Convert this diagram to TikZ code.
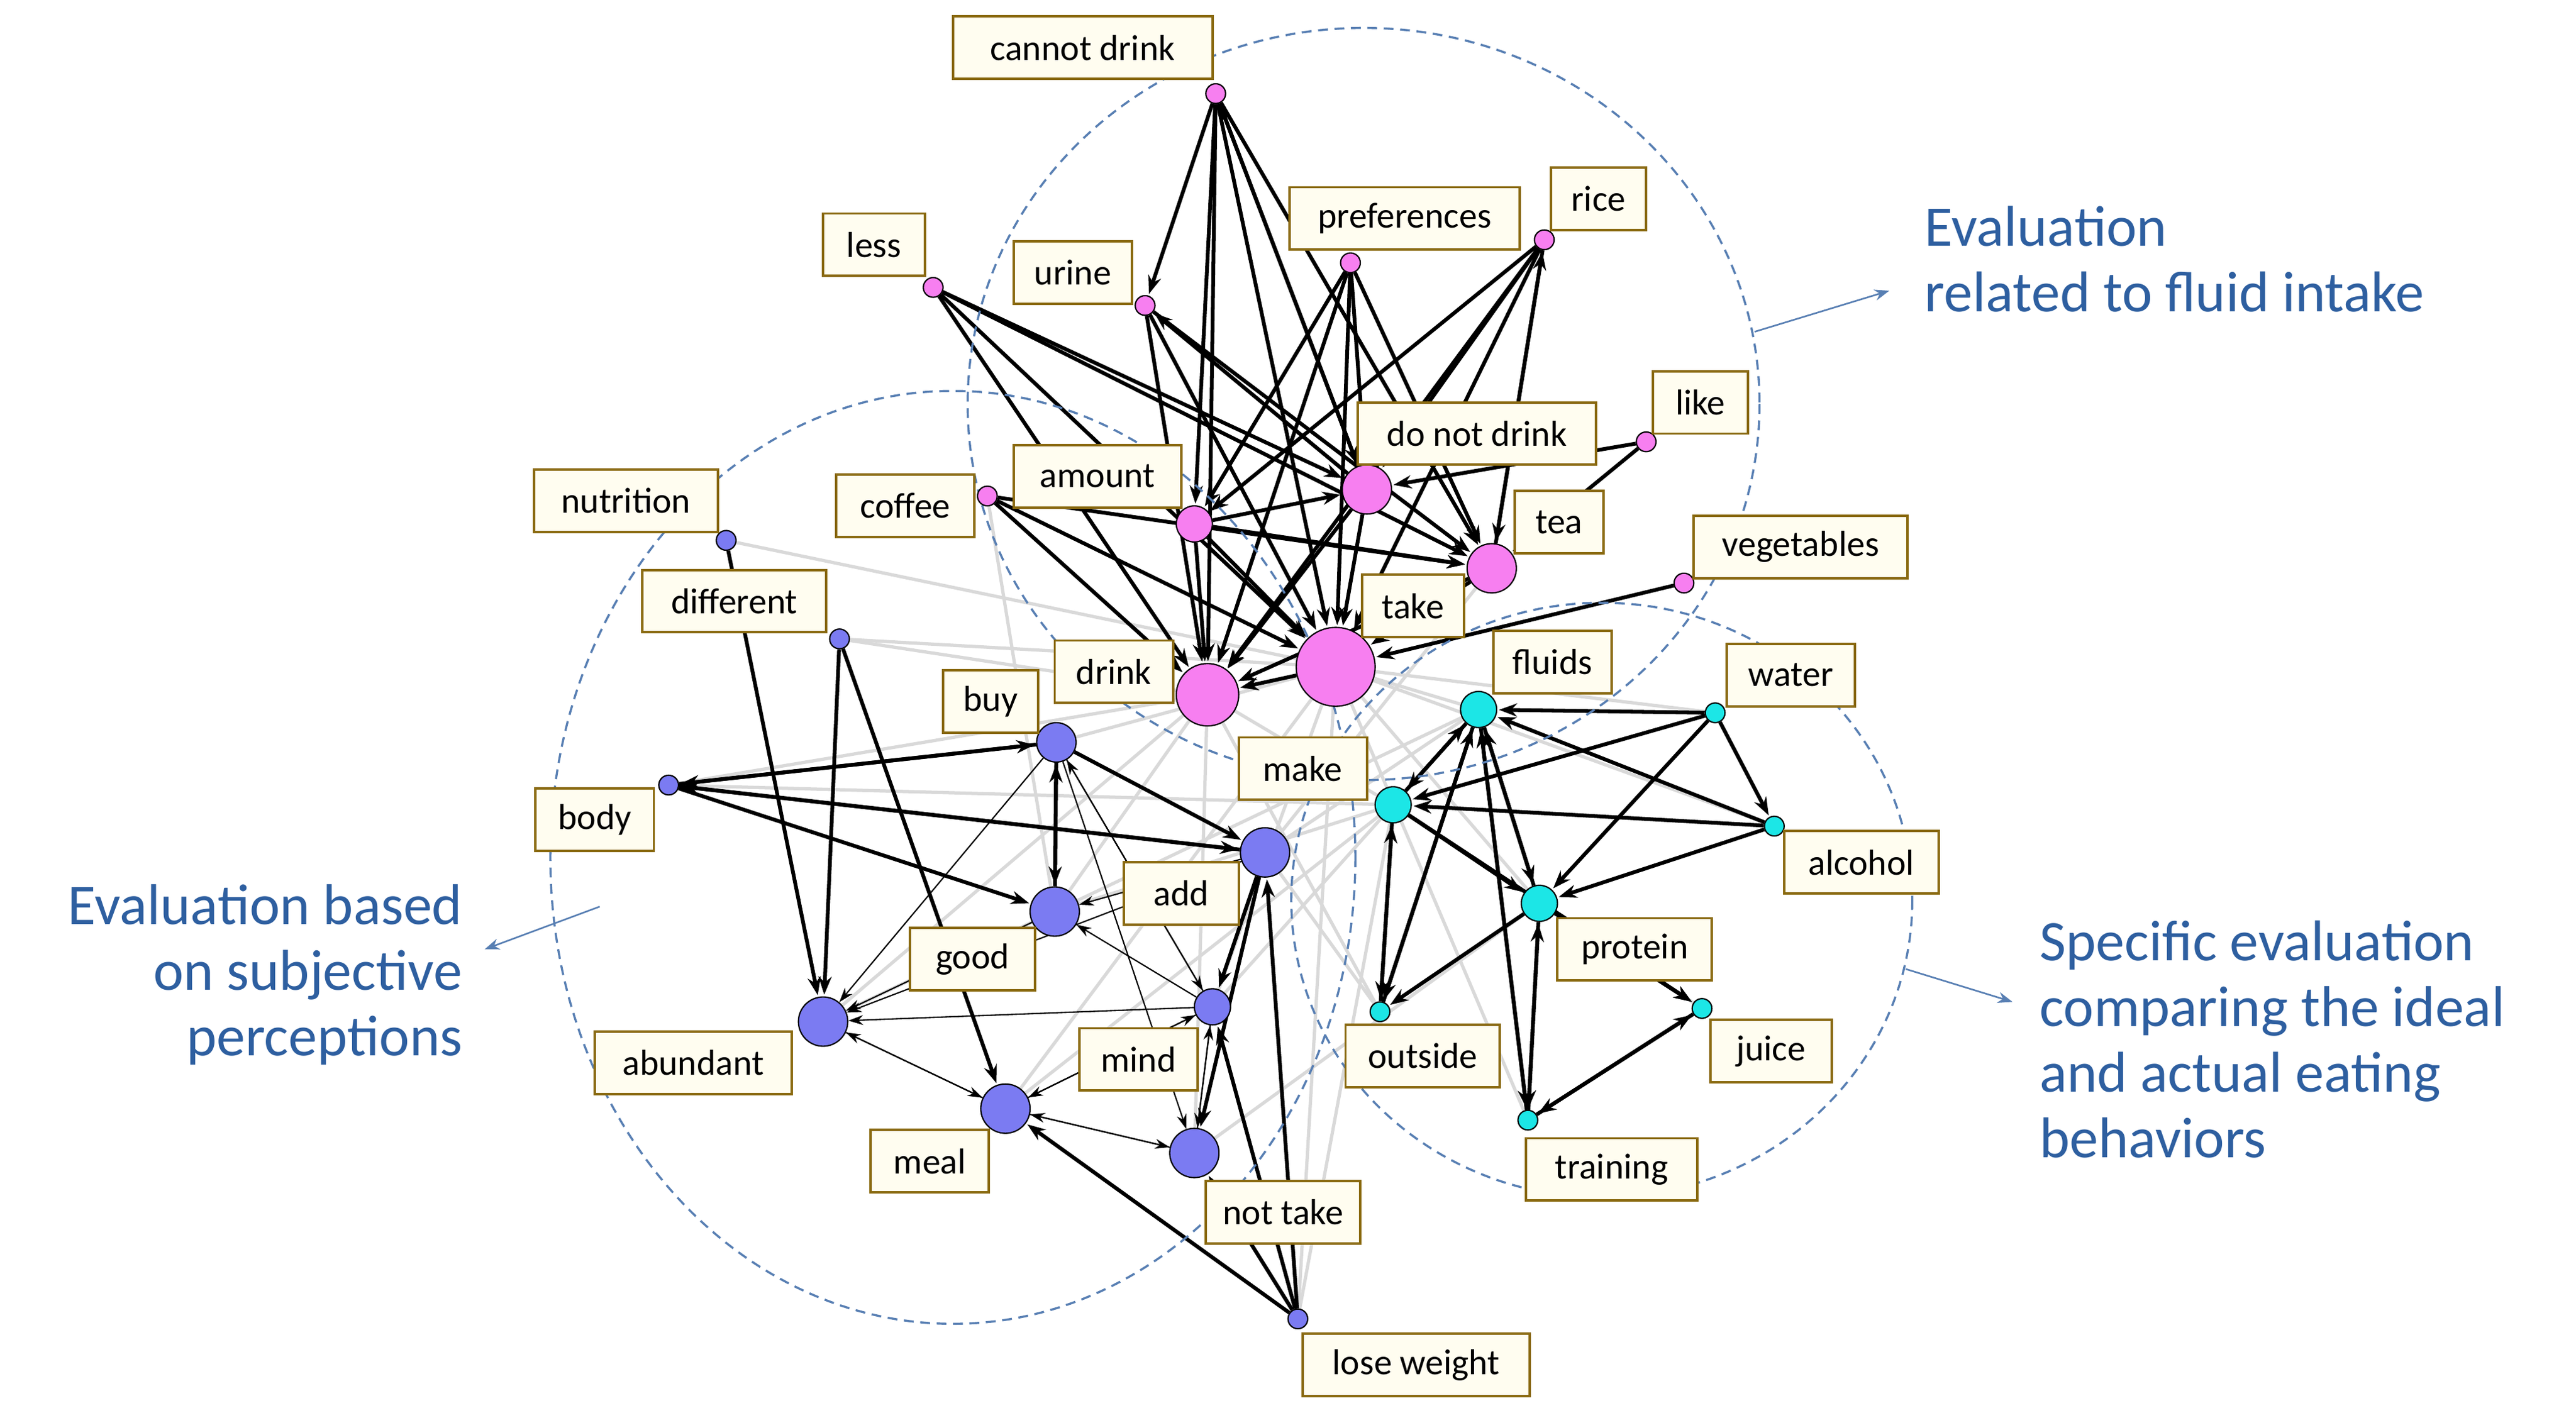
\documentclass[tikz,border=0pt]{standalone}
\usepackage{fontspec}
\setmainfont{Carlito}
\usetikzlibrary{arrows.meta}
\definecolor{pk}{HTML}{F77FF0}
\definecolor{cy}{HTML}{1CE6E6}
\definecolor{bl}{HTML}{7B7BF2}
\definecolor{ev}{HTML}{2E5FA0}
\definecolor{lb}{HTML}{FFFDF0}
\definecolor{lbd}{HTML}{8A6A10}
\pgfdeclarelayer{bg}
\pgfsetlayers{bg,main}
\begin{document}
\begin{tikzpicture}[x=1pt,y=-1pt,
 lab/.style={draw=lbd,line width=1.5pt,fill=lb,minimum height=38pt,inner xsep=4pt,font=\fontsize{22}{24}\selectfont},
 pn/.style={circle,draw=black,line width=0.8pt,fill=pk,inner sep=0pt},
 cn/.style={circle,draw=black,line width=0.8pt,fill=cy,inner sep=0pt},
 bn/.style={circle,draw=black,line width=0.8pt,fill=bl,inner sep=0pt},
 e/.style={-{Stealth[length=11pt,width=8pt]},line width=2.3pt,shorten >=1pt},
 t/.style={-{Stealth[length=9pt,width=6pt]},line width=0.8pt},
 g/.style={line width=2pt,black!15},
 ell/.style={dashed,draw=ev!80,line width=1.3pt,dash pattern=on 6pt off 4pt},
 ev/.style={text=ev,font=\fontsize{35}{40}\selectfont},
 ea/.style={-{Stealth[length=9pt]},draw=ev!80,line width=1pt}]
\useasboundingbox (0,0) rectangle (1568,860);
% nodes
\node[pn,minimum size=12pt] (cd) at (740,57) {};
\node[pn,minimum size=12pt] (ur) at (697,186) {};
\node[pn,minimum size=12pt] (le) at (568,175) {};
\node[pn,minimum size=12pt] (pr) at (822,160) {};
\node[pn,minimum size=12pt] (ri) at (940,146) {};
\node[pn,minimum size=12pt] (li) at (1002,269) {};
\node[pn,minimum size=12pt] (co) at (601,302) {};
\node[pn,minimum size=22pt] (am) at (727,319) {};
\node[pn,minimum size=30pt] (dn) at (832,298) {};
\node[pn,minimum size=30pt] (te) at (908,346) {};
\node[pn,minimum size=12pt] (ve) at (1025,355) {};
\node[pn,minimum size=48pt] (ta) at (813,406) {};
\node[pn,minimum size=38pt] (dr) at (735,423) {};
\node[cn,minimum size=22pt] (fl) at (900,432) {};
\node[cn,minimum size=12pt] (wa) at (1044,434) {};
\node[cn,minimum size=22pt] (mk) at (848,490) {};
\node[cn,minimum size=12pt] (al) at (1080,503) {};
\node[cn,minimum size=22pt] (pt) at (937,550) {};
\node[cn,minimum size=12pt] (ju) at (1036,614) {};
\node[cn,minimum size=12pt] (ou) at (840,616) {};
\node[cn,minimum size=12pt] (tr) at (930,682) {};
\node[bn,minimum size=12pt] (nu) at (442,329) {};
\node[bn,minimum size=12pt] (di) at (511,389) {};
\node[bn,minimum size=24pt] (bu) at (643,452) {};
\node[bn,minimum size=12pt] (bo) at (407,478) {};
\node[bn,minimum size=30pt] (ad) at (770,519) {};
\node[bn,minimum size=30pt] (go) at (642,555) {};
\node[bn,minimum size=30pt] (ab) at (501,622) {};
\node[bn,minimum size=22pt] (mi) at (738,613) {};
\node[bn,minimum size=30pt] (me) at (612,675) {};
\node[bn,minimum size=30pt] (nt) at (727,702) {};
\node[bn,minimum size=12pt] (lw) at (790,803) {};
\begin{pgfonlayer}{bg}
% gray edges
\foreach \a/\b in {nu/ta,di/dr,di/ta,bo/mk,bu/ta,go/mk,ab/fl,me/mk,mi/fl,nt/pt,lw/mk,ad/te,ad/fl,mi/ta,nt/dr,ab/dr,me/ta,go/dr,ou/dr,tr/ta,pt/ta,mk/dr,ju/mk,al/ta,wa/ta,fl/ta,co/go,bo/dr,lw/ta,ou/ad}
 \draw[g] (\a) -- (\b);
% pink edges
\foreach \a/\b in {cd/ur,cd/dr,cd/ta,cd/dn,cd/te,cd/am,le/dr,le/ta,le/te,le/dn,ur/dr,ur/ta,ur/te,pr/dr,pr/ta,pr/dn,pr/am,pr/te,ri/ta,ri/dr,ri/dn,ri/am,ri/te,li/dn,li/te,co/dr,co/ta,co/te,am/dr,am/ta,am/te,am/dn,dn/dr,dn/ta,te/dr,te/ta,ve/ta,ta/dr,dn/cd,te/ri,dn/ur}
 \draw[e] (\a) -- (\b);
% cyan edges
\foreach \a/\b in {wa/fl,wa/mk,wa/al,wa/pt,al/fl,al/mk,al/pt,fl/mk,fl/pt,fl/ou,fl/tr,mk/pt,mk/ou,mk/ju,pt/ou,pt/tr,pt/ju,ou/mk,tr/ju,ou/fl,tr/fl,ju/tr,tr/pt,mk/fl,pt/fl}
 \draw[e] (\a) -- (\b);
% blue edges
\foreach \a/\b in {nu/ab,di/ab,di/me,bo/bu,bo/ad,bo/go,bu/go,go/bu,bu/ad,ad/mi,ad/nt,lw/ad,lw/me,lw/mi,lw/nt,bu/bo,ad/bo}
 \draw[e] (\a) -- (\b);
\foreach \a/\b in {bu/mi,bu/nt,mi/ab,mi/me,me/nt,nt/me,ab/me,me/ab,go/ab,mi/go,mi/bu,ad/go,nt/mi,mi/nt,ad/ab,bu/ab,me/mi}
 \draw[t] (\a) -- (\b);
% ellipses
\draw[ell] (830,246) ellipse [x radius=241,y radius=229];
\draw[ell] (580,522) ellipse [x radius=245,y radius=284];
\draw[ell] (975,548) ellipse [x radius=189,y radius=181];
\end{pgfonlayer}
% labels
\foreach \p/\n/\w/\s in {{659,29}/l1/158/cannot drink,{532,149}/l2/62/less,{653,166}/l3/72/urine,{855,133}/l4/140/preferences,{973,121}/l5/58/rice,{1035,245}/l6/58/like,{899,264}/l7/145/do not drink,{668,290}/l8/102/amount,{551,308}/l9/84/coffee,{949,318}/l10/54/tea,{1096,333}/l11/130/vegetables,{860,369}/l12/62/take,{678,409}/l13/72/drink,{945,403}/l14/72/fluids,{1090,411}/l15/78/water,{793,468}/l16/78/make,{1133,525}/l17/94/alcohol,{995,578}/l18/94/protein,{1078,640}/l19/74/juice,{866,643}/l20/94/outside,{981,712}/l21/104/training,{381,305}/l22/112/nutrition,{447,366}/l23/112/different,{603,427}/l24/58/buy,{362,499}/l25/72/body,{719,544}/l26/70/add,{592,584}/l27/76/good,{422,647}/l28/120/abundant,{693,645}/l29/72/mind,{566,707}/l30/72/meal,{781,738}/l31/94/not take,{862,831}/l32/138/lose weight}
 \node[lab,minimum width=\w pt] (\n) at (\p) {\s};
% evaluation texts
\node[ev,anchor=north west,align=left] (t1) at (1168,122) {Evaluation\\related to fluid intake};
\node[ev,anchor=north east,align=right] (t2) at (285,535) {Evaluation based\\on subjective\\perceptions};
\node[ev,anchor=north west,align=left] (t3) at (1238,557) {Specific evaluation\\comparing the ideal\\and actual eating\\behaviors};
\coordinate (a1) at (1068,202); \coordinate (b1) at (1150,177);
\coordinate (a2) at (365,552); \coordinate (b2) at (295,578);
\coordinate (a3) at (1160,590); \coordinate (b3) at (1225,610);
\draw[ea] (a1) -- (b1); \draw[ea] (a2) -- (b2); \draw[ea] (a3) -- (b3);
\end{tikzpicture}
\end{document}
